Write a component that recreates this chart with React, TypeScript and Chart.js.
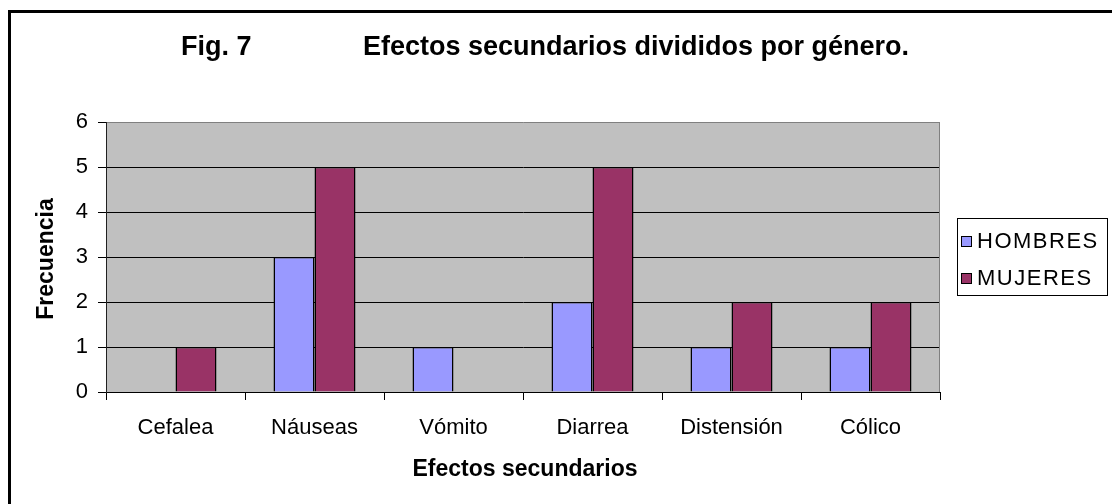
import React, { useEffect, useRef } from "react";
import { Chart, registerables } from "chart.js";

Chart.register(...registerables);

const categories = ["Cefalea", "Náuseas", "Vómito", "Diarrea", "Distensión", "Cólico"];
const hombres = [0, 3, 1, 2, 1, 1];
const mujeres = [1, 5, 0, 5, 2, 2];
const seriesNames = ["HOMBRES", "MUJERES"];
const seriesColors = ["#9999FF", "#993366"];
const yMin = 0;
const yMax = 6;
const yStep = 1;
const titleLeft = "Fig. 7";
const titleRight = "Efectos secundarios divididos por género.";
const xTitle = "Efectos secundarios";
const yTitle = "Frecuencia";

const FONT = "'Liberation Sans', Arial, Helvetica, sans-serif";

const decorPlugin = {
  id: "decor",
  beforeDraw(chart: any) {
    const { ctx, chartArea: a } = chart;
    ctx.save();
    ctx.fillStyle = "#ffffff";
    ctx.fillRect(0, 0, chart.width, chart.height);
    ctx.fillStyle = "#C0C0C0";
    ctx.fillRect(a.left, a.top, a.right - a.left, a.bottom - a.top);
    // outer frame (only top and left edges visible)
    ctx.strokeStyle = "#000";
    ctx.lineWidth = 3;
    ctx.beginPath();
    ctx.moveTo(9.5, chart.height + 5);
    ctx.lineTo(9.5, 11.5);
    ctx.lineTo(chart.width + 5, 11.5);
    ctx.stroke();
    ctx.restore();
  },
  beforeDatasetsDraw(chart: any) {
    const { ctx, chartArea: a } = chart;
    ctx.save();
    ctx.strokeStyle = "#808080";
    ctx.lineWidth = 1;
    ctx.beginPath();
    ctx.moveTo(Math.round(a.right) - 0.5, a.top);
    ctx.lineTo(Math.round(a.right) - 0.5, a.bottom);
    ctx.stroke();
    ctx.restore();
  },
  afterDraw(chart: any) {
    const { ctx } = chart;
    ctx.save();
    ctx.fillStyle = "#000";
    // Title
    ctx.font = `bold 27px ${FONT}`;
    ctx.textBaseline = "alphabetic";
    ctx.textAlign = "left";
    ctx.fillText(titleLeft, 181, 55);
    ctx.fillText(titleRight, 363, 55);
    // Axis titles
    ctx.font = `bold 23px ${FONT}`;
    ctx.textAlign = "center";
    ctx.textBaseline = "middle";
    const a = chart.chartArea;
    ctx.fillText(xTitle, (a.left + a.right) / 2 + 2, 470);
    ctx.save();
    ctx.translate(47, 259);
    ctx.rotate(-Math.PI / 2);
    ctx.fillText(yTitle, 0, 0);
    ctx.restore();
    // Legend
    const lx = 957, ly = 218, lw = 150, lh = 77;
    ctx.fillStyle = "#fff";
    ctx.fillRect(lx, ly, lw, lh);
    ctx.strokeStyle = "#000";
    ctx.lineWidth = 1;
    ctx.strokeRect(lx + 0.5, ly + 0.5, lw, lh);
    ctx.font = `22px ${FONT}`;
    ctx.textAlign = "left";
    ctx.textBaseline = "middle";
    const rows = [241, 278];
    chart.data.datasets.forEach((ds: any, i: number) => {
      const cy = rows[i];
      ctx.fillStyle = ds.backgroundColor;
      ctx.fillRect(961, cy - 5, 10, 10);
      ctx.strokeStyle = "#000";
      ctx.strokeRect(961.5, cy - 4.5, 10, 10);
      ctx.fillStyle = "#000";
      try { (ctx as any).letterSpacing = "1.5px"; } catch (e) {}
      ctx.fillText(ds.label, 977, cy + 1);
      try { (ctx as any).letterSpacing = "0px"; } catch (e) {}
    });
    ctx.restore();
  },
};

export default function App() {
  const ref = useRef<HTMLCanvasElement | null>(null);
  useEffect(() => {
    if (!ref.current) return;
    Chart.defaults.font.family = FONT;
    const chart = new Chart(ref.current, {
      type: "bar",
      data: {
        labels: categories,
        datasets: [
          {
            label: seriesNames[0],
            data: hombres,
            backgroundColor: seriesColors[0],
            borderColor: "#000",
            borderWidth: 1.5,
            categoryPercentage: 0.59,
            barPercentage: 1.0,
          },
          {
            label: seriesNames[1],
            data: mujeres,
            backgroundColor: seriesColors[1],
            borderColor: "#000",
            borderWidth: 1.5,
            categoryPercentage: 0.59,
            barPercentage: 1.0,
          },
        ],
      },
      options: {
        responsive: false,
        animation: false,
        devicePixelRatio: 1,
        layout: { padding: { left: 0, right: 172, top: 122, bottom: 52 } },
        plugins: {
          legend: { display: false },
          title: { display: false },
          tooltip: { enabled: false },
        },
        scales: {
          x: {
            grid: {
              offset: true,
              drawOnChartArea: false,
              drawTicks: true,
              tickLength: 8,
              color: "#000",
              tickColor: "#000",
            },
            border: { display: true, color: "#000", width: 1 },
            ticks: {
              color: "#000",
              font: { size: 22, family: FONT },
              padding: 15,
              maxRotation: 0,
              autoSkip: false,
            },
            afterFit: (s: any) => {
              s.height = 60;
            },
          },
          y: {
            min: yMin,
            max: yMax,
            grid: {
              color: (c: any) => (c.tick && c.tick.value === yMax ? "#808080" : "#000"),
              tickColor: "#000",
              tickLength: 8,
              drawTicks: true,
            },
            border: { display: true, color: "#202020", width: 1 },
            ticks: {
              stepSize: yStep,
              color: "#000",
              font: { size: 22, family: FONT },
              padding: 10,
            },
            afterFit: (s: any) => {
              s.width = 106;
            },
          },
        },
      },
      plugins: [decorPlugin],
    } as any);
    return () => chart.destroy();
  }, []);
  return (
    <div style={{ position: "fixed", left: 0, top: 0, width: 1112, height: 504, background: "#fff" }}>
      <canvas ref={ref} width={1112} height={504} style={{ display: "block", width: 1112, height: 504 }} />
    </div>
  );
}
